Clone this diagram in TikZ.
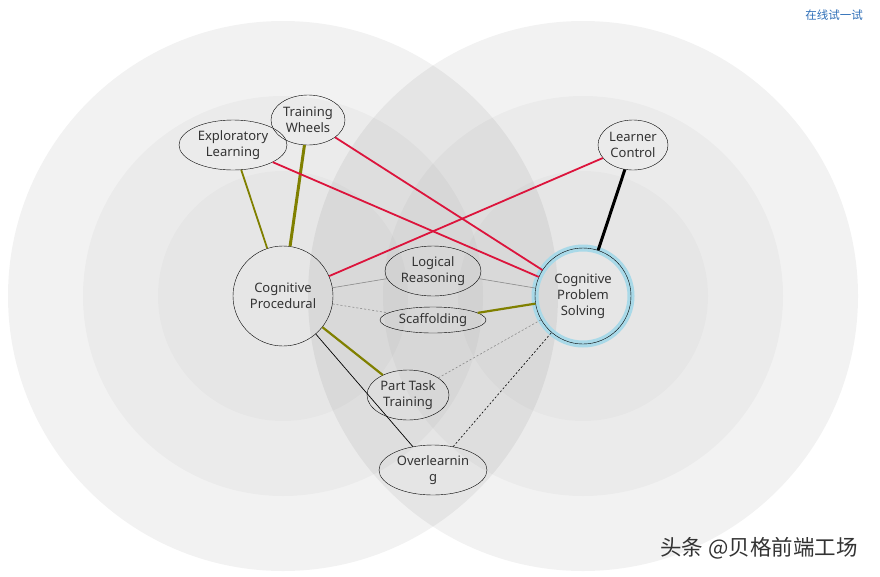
\documentclass[tikz,border=0pt]{standalone}
\usepackage{fontspec}
\setmainfont{Noto Sans}
\newfontfamily\cjkfont{Noto Sans CJK SC}
\usetikzlibrary{shapes.geometric}

\definecolor{linkred}{HTML}{DC143C}
\definecolor{linkolive}{HTML}{808000}
\definecolor{halo}{HTML}{A9D9E8}
\definecolor{linkblue}{HTML}{2F6FB8}

\begin{document}
\begin{tikzpicture}[x=1pt, y=-1pt,
	ring/.style={fill=black, fill opacity=#1, draw=none},
	topic/.style={ellipse, draw, thin, inner sep=0pt, align=center, text=black!80, font=\fontsize{13}{16}\selectfont},
	core/.style={circle, draw, thin, inner sep=0pt, align=center, text=black!80, font=\fontsize{13}{16}\selectfont},
	redlink/.style={line width=1.8pt, draw=linkred},
	olivelink/.style={line width=2.2pt, draw=linkolive},
	greylink/.style={line width=0.6pt, draw=black!45},
	dashlink/.style={line width=0.6pt, draw=black!45, dashed, dash pattern=on 2pt off 2pt},
]
	\useasboundingbox[fill=white] (0,0) rectangle (880,576);

	% background rings (left and right)
	\foreach \r/\o in {275/0.05,200/0.028,125/0.02} {
		\fill[ring=\o] (283,296) circle (\r);
		\fill[ring=\o] (583,296) circle (\r);
	}

	% Cognitive Procedural (left core)
	\node[core, minimum size=100pt] (proc) at (283,296) {Cognitive\\Procedural};

	% Cognitive Problem Solving (right core)
	\node[core, minimum size=96pt, preaction={draw=halo, line width=7pt}] (solve) at (583,296) {Cognitive\\Problem\\Solving};

	% top topics
	\node[topic, minimum width=108pt, minimum height=50pt] (explore) at (233,145) {Exploratory\\Learning};
	\node[topic, minimum width=74pt, minimum height=50pt] (wheels) at (308,120) {Training\\Wheels};
	\node[topic, minimum width=70pt, minimum height=50pt] (learner) at (633,145) {Learner\\Control};

	% middle topics
	\node[topic, minimum width=96pt, minimum height=50pt] (logic) at (433,271) {Logical\\Reasoning};
	\node[topic, minimum width=106pt, minimum height=26pt] (scaff) at (433,320) {Scaffolding};
	\node[topic, minimum width=82pt, minimum height=50pt] (part) at (408,395) {Part Task\\Training};
	\node[topic, minimum width=108pt, minimum height=50pt] (over) at (433,470) {Overlearnin\\g};

	% links to Cognitive Procedural
	\draw[olivelink, line width=1.8pt] (explore) -- (proc);
	\draw[olivelink, line width=3pt] (wheels) -- (proc);
	\draw[redlink] (learner) -- (proc);
	\draw[greylink] (proc) -- (logic);
	\draw[dashlink] (proc) -- (scaff);
	\draw[olivelink] (proc) -- (part);
	\draw[line width=0.7pt] (proc) -- (over);

	% links to Cognitive Problem Solving
	\draw[redlink] (explore) -- (solve);
	\draw[redlink] (wheels) -- (solve);
	\draw[line width=3pt] (learner) -- (solve);
	\draw[greylink] (logic) -- (solve);
	\draw[olivelink] (scaff) -- (solve);
	\draw[dashlink] (part) -- (solve);
	\draw[line width=0.6pt, dashed, dash pattern=on 2pt off 2pt] (over) -- (solve);

	% labels
	\node[text=linkblue, font=\cjkfont\fontsize{11.5}{13}\selectfont] (tryit) at (834,15) {在线试一试};
	\node[text=black!80, font=\cjkfont\fontsize{21.5}{24}\selectfont] (mark) at (759,548) {头条 @贝格前端工场};
\end{tikzpicture}
\end{document}
